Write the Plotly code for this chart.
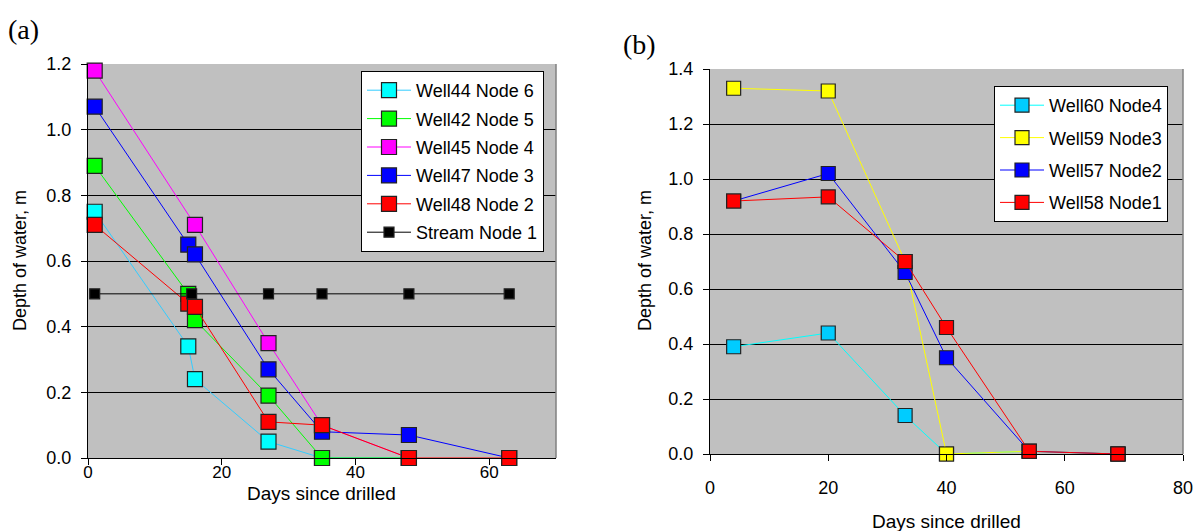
import plotly.graph_objects as go

# ---- Panel (a) data ----
a_days_w44 = [1, 15, 16, 27, 35, 48]
a_w44 = [0.75, 0.34, 0.24, 0.05, 0.0, 0.0]
a_days_w42 = [1, 15, 16, 27, 35, 48]
a_w42 = [0.89, 0.50, 0.42, 0.19, 0.0, 0.0]
a_days_w45 = [1, 16, 27, 35, 48]
a_w45 = [1.18, 0.71, 0.35, 0.10, 0.0]
a_days_w47 = [1, 15, 16, 27, 35, 48, 63]
a_w47 = [1.07, 0.65, 0.62, 0.27, 0.08, 0.07, 0.0]
a_days_w48 = [1, 15, 16, 27, 35, 48, 63]
a_w48 = [0.71, 0.47, 0.46, 0.11, 0.10, 0.0, 0.0]
a_days_stream = [1, 15.5, 27, 35, 48, 63]
a_stream = [0.5, 0.5, 0.5, 0.5, 0.5, 0.5]

# ---- Panel (b) data ----
b_days = [4, 20, 33, 40, 54, 69]
b_w60 = [0.39, 0.44, 0.14, 0.0, 0.01, 0.0]
b_w59 = [1.33, 1.32, 0.70, 0.0, 0.01, 0.0]
b_w57 = [0.92, 1.02, 0.66, 0.35, 0.01, 0.0]
b_w58 = [0.92, 0.935, 0.70, 0.46, 0.01, 0.0]

W, H = 1202, 531
OFF = 8  # default page body margin
FONT = "Liberation Sans, Arial, sans-serif"
SERIF = "Liberation Serif, Times New Roman, serif"

fig = go.Figure()

def add(x, y, name, line_color, marker_color, xa, ya, legend, size=15):
    fig.add_trace(go.Scatter(
        x=x, y=y, name=name, mode="lines+markers", legendgroup=name,
        line=dict(color=line_color, width=1),
        marker=dict(symbol="square", size=size, color=marker_color,
                    line=dict(color="#222222", width=1.2)),
        xaxis=xa, yaxis=ya, legend=legend, cliponaxis=False))

add(a_days_w44, a_w44, "Well44 Node 6", "#33CCFF", "#00FFFF", "x", "y", "legend")
add(a_days_w42, a_w42, "Well42 Node 5", "#00FF00", "#00FF00", "x", "y", "legend")
add(a_days_w45, a_w45, "Well45 Node 4", "#FF00FF", "#FF00FF", "x", "y", "legend")
add(a_days_w47, a_w47, "Well47 Node 3", "#0000FF", "#0000FF", "x", "y", "legend")
add(a_days_w48, a_w48, "Well48 Node 2", "#FF0000", "#FF0000", "x", "y", "legend")
add(a_days_stream, a_stream, "Stream Node 1", "#000000", "#000000", "x", "y", "legend", size=10)

add(b_days, b_w60, "Well60 Node4", "#00FFFF", "#00CCFF", "x2", "y2", "legend2", size=14)
add(b_days, b_w59, "Well59 Node3", "#FFFF00", "#FFFF00", "x2", "y2", "legend2", size=14)
add(b_days, b_w57, "Well57 Node2", "#0000FF", "#0000FF", "x2", "y2", "legend2", size=14)
add(b_days, b_w58, "Well58 Node1", "#FF0000", "#FF0000", "x2", "y2", "legend2", size=14)

def px_x(p):
    return (p - OFF) / W

def px_y(p):
    return 1 - (p - OFF) / H

axis_common = dict(showline=True, linecolor="#000000", linewidth=1,
                   ticks="outside", ticklen=6, tickcolor="#000000",
                   zeroline=False, automargin=False)

xtick_font_a = dict(family=FONT, size=17, color="#000000")
xtick_font_b = dict(family=FONT, size=18, color="#000000")
ytick_font = dict(family=FONT, size=18, color="#000000")

fig.update_layout(
    width=W, height=H,
    margin=dict(l=0, r=0, t=0, b=0, pad=0, autoexpand=False),
    paper_bgcolor="white", plot_bgcolor="#C0C0C0",
    font=dict(family=FONT, size=18, color="#000000"),
    xaxis=dict(domain=[px_x(88), px_x(556)], range=[0, 70], tickvals=[0, 20, 40, 60],
               showgrid=False, anchor="y", tickfont=xtick_font_a, ticklabelstandoff=-7, **axis_common),
    yaxis=dict(domain=[px_y(458), px_y(64)], range=[0, 1.2], tickvals=[0, 0.2, 0.4, 0.6, 0.8, 1.0, 1.2],
               tickformat=".1f", showgrid=True, gridcolor="#000000", gridwidth=1, anchor="x",
               tickfont=ytick_font, ticklabelstandoff=6, **axis_common),
    xaxis2=dict(domain=[px_x(710), px_x(1183)], range=[0, 80], tickvals=[0, 20, 40, 60, 80],
                showgrid=False, anchor="y2", tickfont=xtick_font_b, ticklabelstandoff=11, **axis_common),
    yaxis2=dict(domain=[px_y(454), px_y(69)], range=[0, 1.4], tickvals=[0, 0.2, 0.4, 0.6, 0.8, 1.0, 1.2, 1.4],
                tickformat=".1f", showgrid=True, gridcolor="#000000", gridwidth=1, anchor="x2",
                tickfont=ytick_font, ticklabelstandoff=6, **axis_common),
    legend=dict(x=px_x(361), y=px_y(71), xanchor="left", yanchor="top",
                bgcolor="white", bordercolor="#000000", borderwidth=1,
                font=dict(family=FONT, size=18), tracegroupgap=2, itemwidth=44),
    legend2=dict(x=px_x(994), y=px_y(86), xanchor="left", yanchor="top",
                 bgcolor="white", bordercolor="#000000", borderwidth=1,
                 font=dict(family=FONT, size=18), tracegroupgap=6, itemwidth=44),
    showlegend=True,
)

# right-edge border of plot areas
for xr, yr in [("x domain", "y domain"), ("x2 domain", "y2 domain")]:
    fig.add_shape(type="line", xref=xr, yref=yr, x0=1, x1=1, y0=0, y1=1,
                  line=dict(color="#808080", width=1.5))

ann = [
    dict(text="(a)", x=px_x(6), y=px_y(30), font=dict(family=SERIF, size=28)),
    dict(text="(b)", x=px_x(621), y=px_y(44), font=dict(family=SERIF, size=28)),
    dict(text="Days since drilled", x=px_x(321), y=px_y(493), xanchor="center",
         font=dict(family=FONT, size=19)),
    dict(text="Days since drilled", x=px_x(946), y=px_y(521), xanchor="center",
         font=dict(family=FONT, size=19)),
    dict(text="Depth of water, m", x=px_x(20), y=px_y(261), xanchor="center", yanchor="middle",
         textangle=-90, font=dict(family=FONT, size=18)),
    dict(text="Depth of water, m", x=px_x(645), y=px_y(261), xanchor="center", yanchor="middle",
         textangle=-90, font=dict(family=FONT, size=18)),
]
for a in ann:
    a.setdefault("xanchor", "left")
    a.setdefault("yanchor", "middle")
    fig.add_annotation(xref="paper", yref="paper", showarrow=False, **a)

fig.write_html("out.html")
